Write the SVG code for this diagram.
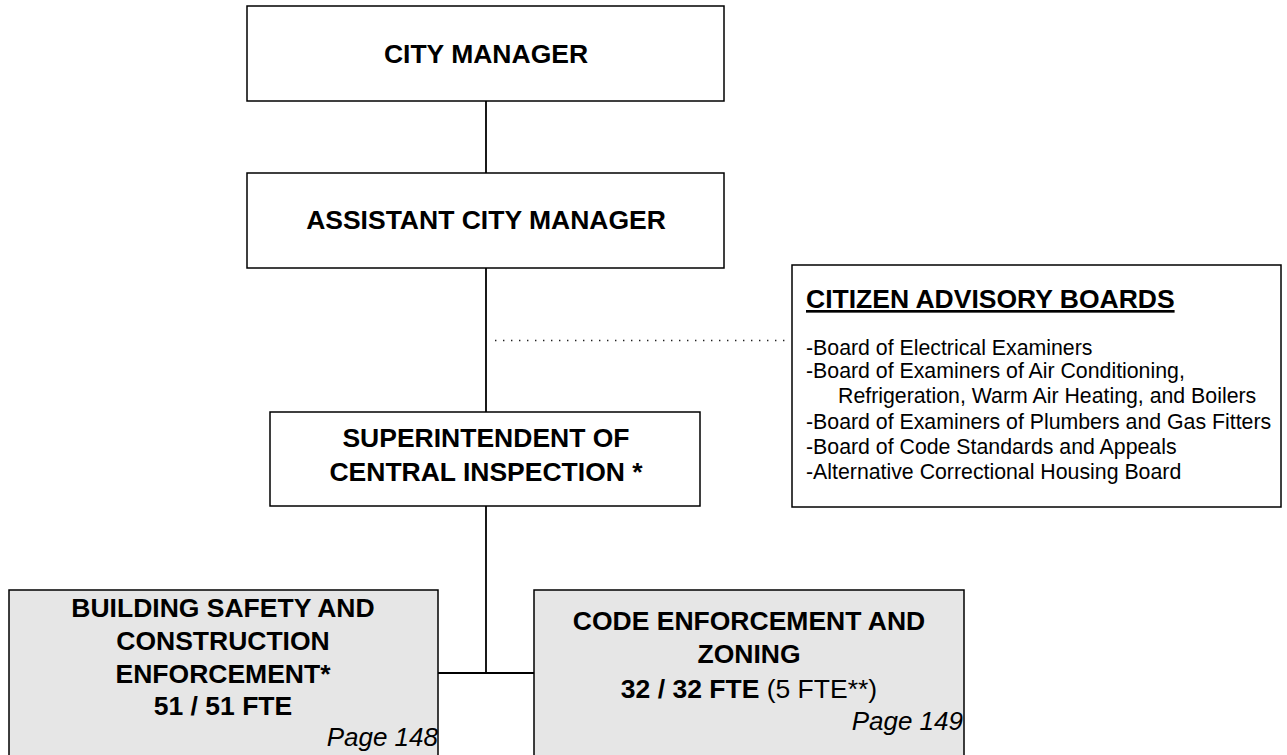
<svg xmlns="http://www.w3.org/2000/svg" width="1287" height="755" viewBox="0 0 1287 755">
<style>
.box{fill:#fff;stroke:#000;stroke-width:1.5}
.gbox{fill:#e6e6e6;stroke:#000;stroke-width:1.5}
.t{font-family:"Liberation Sans",Arial,sans-serif;font-weight:bold;font-size:26.5px;text-anchor:middle;fill:#000}
.l{font-family:"Liberation Sans",Arial,sans-serif;font-size:21.3px;fill:#000}
.pg{font-family:"Liberation Sans",Arial,sans-serif;font-style:italic;font-size:26px;text-anchor:end;fill:#000}
.ln{stroke:#000;stroke-width:1.8;fill:none}
</style>
<rect width="1287" height="755" fill="#fff"/>
<g id="connectors">
<line class="ln" x1="486" y1="101" x2="486" y2="173"/>
<line class="ln" x1="486" y1="268" x2="486" y2="412"/>
<line class="ln" x1="486" y1="506" x2="486" y2="673"/>
<line class="ln" x1="438" y1="673" x2="534" y2="673"/>
<line x1="495" y1="340.5" x2="790" y2="340.5" stroke="#222" stroke-width="1.4" stroke-dasharray="1.4,6.6"/>
</g>
<g id="city-manager">
<rect class="box" x="247" y="6" width="477" height="95"/>
<text class="t" x="486" y="63">CITY MANAGER</text>
</g>
<g id="assistant-city-manager">
<rect class="box" x="247" y="173" width="477" height="95"/>
<text class="t" x="486" y="229">ASSISTANT CITY MANAGER</text>
</g>
<g id="superintendent">
<rect class="box" x="270" y="412" width="430" height="94"/>
<text class="t" x="486" y="447">SUPERINTENDENT OF</text>
<text class="t" x="486" y="481">CENTRAL INSPECTION *</text>
</g>
<g id="citizen-advisory-boards">
<rect class="box" x="792" y="265" width="489" height="242"/>
<text x="806" y="308" font-family="Liberation Sans, Arial, sans-serif" font-weight="bold" font-size="26.5" text-decoration="underline">CITIZEN ADVISORY BOARDS</text>
<text class="l" x="806" y="355">-Board of Electrical Examiners</text>
<text class="l" x="806" y="378">-Board of Examiners of Air Conditioning,</text>
<text class="l" x="838" y="403">Refrigeration, Warm Air Heating, and Boilers</text>
<text class="l" x="806" y="429">-Board of Examiners of Plumbers and Gas Fitters</text>
<text class="l" x="806" y="454">-Board of Code Standards and Appeals</text>
<text class="l" x="806" y="479">-Alternative Correctional Housing Board</text>
</g>
<g id="building-safety">
<rect class="gbox" x="9" y="590" width="429" height="175"/>
<text class="t" x="223" y="617">BUILDING SAFETY AND</text>
<text class="t" x="223" y="650">CONSTRUCTION</text>
<text class="t" x="223" y="683">ENFORCEMENT*</text>
<text class="t" x="223" y="715">51 / 51 FTE</text>
<text class="pg" x="438" y="746">Page 148</text>
</g>
<g id="code-enforcement">
<rect class="gbox" x="534" y="590" width="430" height="175"/>
<text class="t" x="749" y="630">CODE ENFORCEMENT AND</text>
<text class="t" x="749" y="663">ZONING</text>
<text class="t" x="749" y="698">32 / 32 FTE <tspan font-weight="normal">(5 FTE**)</tspan></text>
<text class="pg" x="963" y="730">Page 149</text>
</g>
</svg>
